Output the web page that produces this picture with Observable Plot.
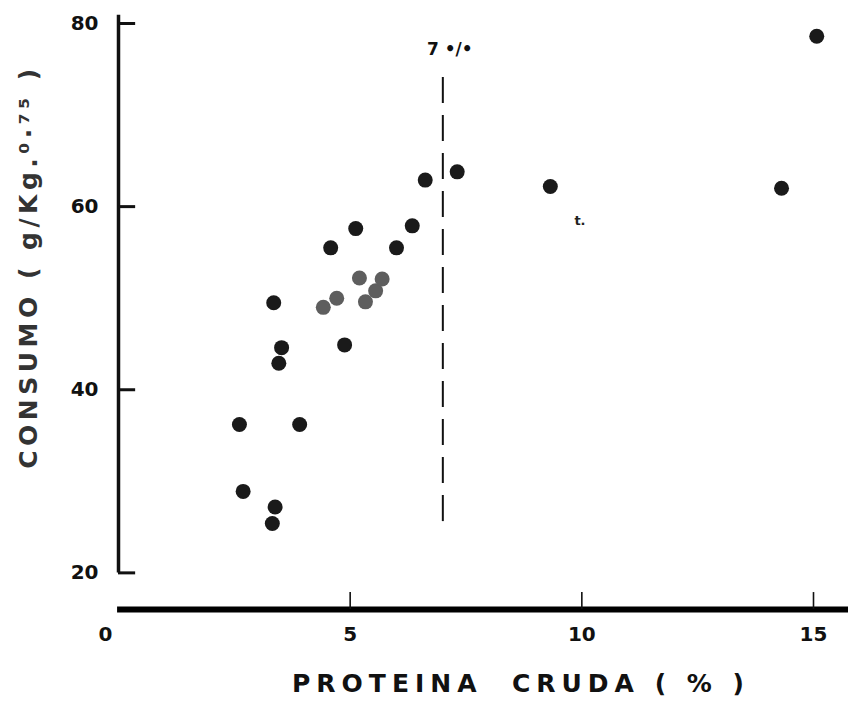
<!DOCTYPE html>
<html>
<head>
<meta charset="utf-8">
<script src="https://cdn.jsdelivr.net/npm/d3@7"></script>
<script src="https://cdn.jsdelivr.net/npm/@observablehq/plot@0.6"></script>
<style>
  html, body { margin: 0; padding: 0; background: #fff; }
  #chart svg { display: block; }
</style>
</head>
<body>
<div id="chart"></div>
<script>
// Consumo voluntario vs. proteína cruda de la dieta
// Serie principal (círculos negros)
const proteinaNegro = [2.61, 2.69, 3.32, 3.38, 3.35, 3.46, 3.52, 3.91, 4.58, 4.88, 5.12, 6.00, 6.34, 6.62, 7.31, 9.32, 14.31, 15.07];
const consumoNegro  = [36.2, 28.9, 25.4, 27.2, 49.5, 42.9, 44.6, 36.2, 55.5, 44.9, 57.6, 55.5, 57.9, 62.9, 63.8, 62.2, 62.0, 78.6];
// Serie secundaria (círculos grises)
const proteinaGris = [4.42, 4.71, 5.20, 5.33, 5.55, 5.69];
const consumoGris  = [49.0, 50.0, 52.2, 49.6, 50.8, 52.1];

// Ejes
const yTicks = [20, 40, 60, 80];
const xTicks = [5, 10, 15];
const xTickLabels = ["5", "10", "15"];
const xOrigen = ["0"];

// Umbral de proteína (línea discontinua)
const umbral = [7];
const umbralTramo = [25.6, 74.9];
const umbralTexto = ["7 •/•"];

// Marca suelta a la derecha del umbral
const marcaSuelta = [{p: 9.96, c: 58.4, t: "t."}];

const tituloX = "PROTEINA  CRUDA ( % )";
const tituloY = "CONSUMO ( g/Kg.⁰·⁷⁵ )";

const negro = proteinaNegro.map((p, i) => ({p, c: consumoNegro[i]}));
const gris = proteinaGris.map((p, i) => ({p, c: consumoGris[i]}));

const font = "'DejaVu Sans', sans-serif";

const chart = Plot.plot({
  width: 848,
  height: 703,
  marginLeft: 118,
  marginRight: 35,
  marginTop: 23,
  marginBottom: 94,
  style: {fontFamily: font, background: "#fff", overflow: "visible"},
  x: {domain: [0, 15], axis: null},
  y: {domain: [16, 80], axis: null},
  marks: [
    // eje Y
    Plot.ruleX([0], {y1: yTicks[0], y2: 80.9, stroke: "#111", strokeWidth: 3.5}),
    Plot.ruleY(yTicks, {x1: 0, x2: 0.37, stroke: "#111", strokeWidth: 3}),
    Plot.text(yTicks, {x: 0, y: d => d, dx: -20, textAnchor: "end", text: d => String(d),
      fontSize: 20, fontWeight: "bold", fill: "#111"}),
    // eje X
    Plot.ruleY([16], {x1: -0.02, x2: 15.8, stroke: "#000", strokeWidth: 6}),
    Plot.ruleX(xTicks, {y1: 16, y2: 17.85, stroke: "#111", strokeWidth: 1.6}),
    Plot.text(xTicks, {x: d => d, y: 16, dy: 25, text: (d, i) => xTickLabels[i],
      fontSize: 20, fontWeight: "bold", fill: "#111"}),
    Plot.text(xOrigen, {x: 0, y: 16, dy: 25, dx: -13, fontSize: 20, fontWeight: "bold", fill: "#111"}),
    // umbral
    Plot.ruleX(umbral, {y1: umbralTramo[0], y2: umbralTramo[1], stroke: "#111", strokeWidth: 2,
      strokeDasharray: "26,12"}),
    Plot.text(umbralTexto, {x: umbral[0], y: umbralTramo[1], dx: 7, dy: -21,
      fontSize: 17, fontWeight: "bold", fill: "#111"}),
    Plot.text(marcaSuelta, {x: "p", y: "c", text: "t", fontSize: 13, fontWeight: "bold", fill: "#222"}),
    // puntos
    Plot.dot(negro, {x: "p", y: "c", r: 7.5, fill: "#1a1a1a", stroke: "none"}),
    Plot.dot(gris, {x: "p", y: "c", r: 7.5, fill: "#5e5e5e", stroke: "none"}),
    // títulos
    Plot.text([tituloX], {frameAnchor: "bottom", textAnchor: "middle", lineAnchor: "middle",
      dx: 55, dy: 74, fontSize: 25, fontWeight: "bold", fill: "#111"}),
    Plot.text([tituloY], {frameAnchor: "left", textAnchor: "middle", lineAnchor: "middle",
      dx: -90, dy: -50, rotate: -90, fontSize: 25, fontWeight: "bold", fill: "#333"})
  ]
});

document.getElementById("chart").appendChild(chart);
// espaciado de letras de los títulos
d3.select(chart).selectAll("text")
  .filter(function() { return this.textContent === tituloX; })
  .attr("letter-spacing", "6px");
d3.select(chart).selectAll("text")
  .filter(function() { return this.textContent === tituloY; })
  .attr("letter-spacing", "4.5px");
</script>
</body>
</html>
